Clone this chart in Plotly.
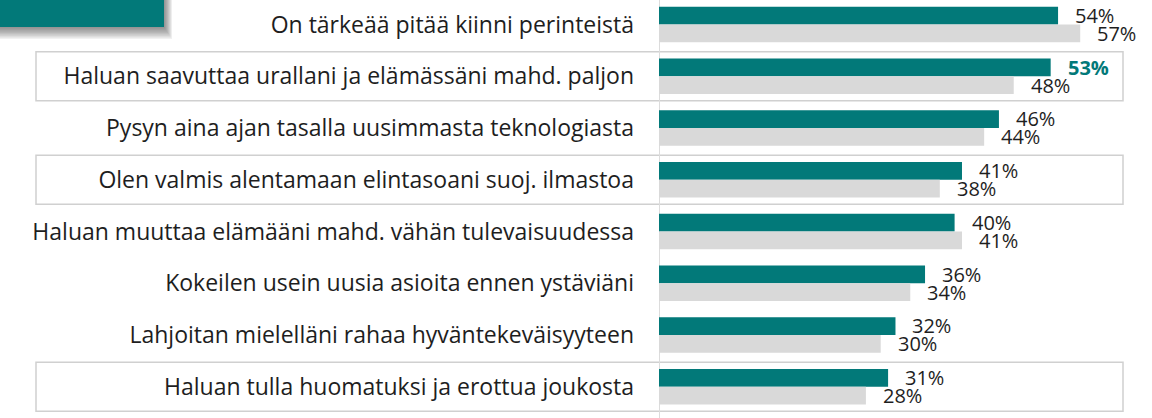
import plotly.graph_objects as go

categories = [
    "On tärkeää pitää kiinni perinteistä",
    "Haluan saavuttaa urallani ja elämässäni mahd. paljon",
    "Pysyn aina ajan tasalla uusimmasta teknologiasta",
    "Olen valmis alentamaan elintasoani suoj. ilmastoa",
    "Haluan muuttaa elämääni mahd. vähän tulevaisuudessa",
    "Kokeilen usein uusia asioita ennen ystäviäni",
    "Lahjoitan mielelläni rahaa hyväntekeväisyyteen",
    "Haluan tulla huomatuksi ja erottua joukosta",
]
teal_values = [54, 53, 46, 41, 40, 36, 32, 31]
gray_values = [57, 48, 44, 38, 41, 34, 30, 28]
highlighted = [1]          # teal value labels shown bold/teal
boxed_rows = [1, 3, 7]     # rows framed with a thin box

TEAL = "#027979"
GRAY = "#D9D9D9"
TEXT = "#1E1E1E"
FONT = "Open Sans"

W, H = 1152, 418
ML, MR, MT, MB = 659, 0, 0, 4
PW, PH = W - ML - MR, H - MT - MB
XMAX = PW / 7.39

def px_x(p):
    return (p - ML) / PW

def px_y(p):
    return 1 - (p - MT) / PH

idx = list(range(len(categories)))

fig = go.Figure()
fig.add_trace(go.Bar(y=idx, x=teal_values, orientation="h", marker_color=TEAL,
                     marker_line_width=0, name="A", hoverinfo="skip"))
fig.add_trace(go.Bar(y=idx, x=gray_values, orientation="h", marker_color=GRAY,
                     marker_line_width=0, name="B", hoverinfo="skip"))

annotations = []
for i in idx:
    hl = i in highlighted
    annotations.append(dict(
        x=teal_values[i], y=i, xref="x", yref="y", xanchor="left", yanchor="middle",
        text=(f"<b>{teal_values[i]}%</b>" if hl else f"{teal_values[i]}%"),
        showarrow=False, xshift=15, yshift=9,
        font=dict(family=FONT, size=20, color=(TEAL if hl else TEXT))))
    annotations.append(dict(
        x=gray_values[i], y=i, xref="x", yref="y", xanchor="left", yanchor="middle",
        text=f"{gray_values[i]}%", showarrow=False, xshift=15, yshift=-9,
        font=dict(family=FONT, size=20, color=TEXT)))

shapes = []
for r in boxed_rows:
    shapes.append(dict(type="rect", xref="paper", yref="y",
                       x0=px_x(36), x1=px_x(1123), y0=r - 0.475, y1=r + 0.475,
                       line=dict(color="#D0D0D0", width=1.5), fillcolor="rgba(0,0,0,0)",
                       layer="below"))
# vertical axis line
shapes.append(dict(type="line", xref="x", yref="paper", x0=0, x1=0,
                   y0=px_y(420), y1=px_y(-2), line=dict(color="#DCDCDC", width=2),
                   layer="below"))
# header block with soft shadow
for k in range(1, 11):
    shapes.append(dict(type="rect", xref="paper", yref="paper",
                       x0=px_x(-10), x1=px_x(164 + k * 0.8), y0=px_y(27 + k * 1.2), y1=px_y(-5),
                       line_width=0, fillcolor="rgba(60,60,60,0.07)", layer="above"))
shapes.append(dict(type="rect", xref="paper", yref="paper",
                   x0=px_x(-10), x1=px_x(164), y0=px_y(27), y1=px_y(-5),
                   line_width=0, fillcolor=TEAL, layer="above"))

fig.update_layout(
    width=W, height=H, margin=dict(l=ML, r=MR, t=MT, b=MB),
    paper_bgcolor="white", plot_bgcolor="white",
    barmode="group", bargap=0.312, bargroupgap=0,
    showlegend=False,
    font=dict(family=FONT, color=TEXT),
    xaxis=dict(range=[0, XMAX], visible=False, fixedrange=True),
    yaxis=dict(range=[7.527, -0.473], tickmode="array", tickvals=idx, ticktext=categories,
               showgrid=False, zeroline=False, showline=False, ticks="",
               ticklabelstandoff=24,
               tickfont=dict(family=FONT, size=23, color=TEXT), fixedrange=True),
    annotations=annotations, shapes=shapes,
)

fig.write_html("out.html", config={"displayModeBar": False},
               post_script="document.body.style.margin='0';document.body.style.overflow='hidden';")
